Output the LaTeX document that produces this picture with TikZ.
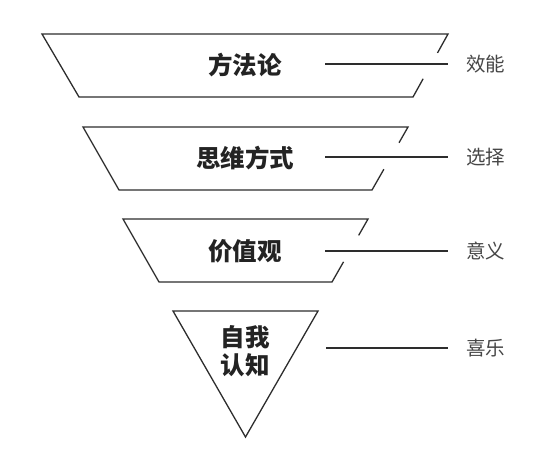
\documentclass[tikz,border=0pt]{standalone}
\usepackage{fontspec}
\newfontfamily\cjk{Noto Sans CJK SC}
\usetikzlibrary{calc}
\definecolor{ln}{RGB}{45,45,45}
\definecolor{tx}{RGB}{35,35,35}
\definecolor{lb}{RGB}{70,70,70}

\begin{document}
\begin{tikzpicture}[x=1pt, y=-1pt,
    layer/.style={draw=ln, line width=1.3pt, line join=miter},
    ttl/.style={font=\cjk\bfseries\fontsize{24.5}{28}\selectfont, text=tx, align=center},
    lab/.style={font=\cjk\fontsize{19.5}{22}\selectfont, text=lb, anchor=west, inner xsep=18pt, inner ysep=0pt},
    link/.style={draw=ln, line width=1.3pt},
]
\useasboundingbox (0,0) rectangle (540,458);

% === Layer 1: Methodology ===
\coordinate (tl1) at (42,34);  \coordinate (tr1) at (448,34);
\coordinate (bl1) at (79,97);  \coordinate (br1) at (413,97);
\draw[layer] ($(tr1)!0.71!(br1)$) -- (br1) -- (bl1) -- (tl1) -- (tr1) -- ($(tr1)!0.3!(br1)$);
\node[ttl] (m1) at (245,65) {方法论};
\coordinate (s1) at (325,64);
\node[lab] (e1) at (448,64) {效能};
\draw[link] (s1) -- (e1);

% === Layer 2: Way of thinking ===
\coordinate (tl2) at (83,127);  \coordinate (tr2) at (408,127);
\coordinate (bl2) at (119,190); \coordinate (br2) at (372,190);
\draw[layer] ($(tr2)!0.67!(br2)$) -- (br2) -- (bl2) -- (tl2) -- (tr2) -- ($(tr2)!0.25!(br2)$);
\node[ttl] (m2) at (245,158) {思维方式};
\coordinate (s2) at (325,157);
\node[lab] (e2) at (448,157) {选择};
\draw[link] (s2) -- (e2);

% === Layer 3: Values ===
\coordinate (tl3) at (123,219); \coordinate (tr3) at (368,219);
\coordinate (bl3) at (159,282); \coordinate (br3) at (332,282);
\draw[layer] ($(tr3)!0.68!(br3)$) -- (br3) -- (bl3) -- (tl3) -- (tr3) -- ($(tr3)!0.26!(br3)$);
\node[ttl] (m3) at (245,251) {价值观};
\coordinate (s3) at (325,251);
\node[lab] (e3) at (448,251) {意义};
\draw[link] (s3) -- (e3);

% === Layer 4: Self-knowledge ===
\coordinate (tl4) at (173,311); \coordinate (tr4) at (318,311);
\coordinate (ap4) at (245.5,437);
\draw[layer] (tl4) -- (tr4) -- (ap4) -- cycle;
\node[ttl] (m4) at (245,351) {自我\\认知};
\coordinate (s4) at (326,348);
\node[lab] (e4) at (448,348) {喜乐};
\draw[link] (s4) -- (e4);

\end{tikzpicture}
\end{document}
